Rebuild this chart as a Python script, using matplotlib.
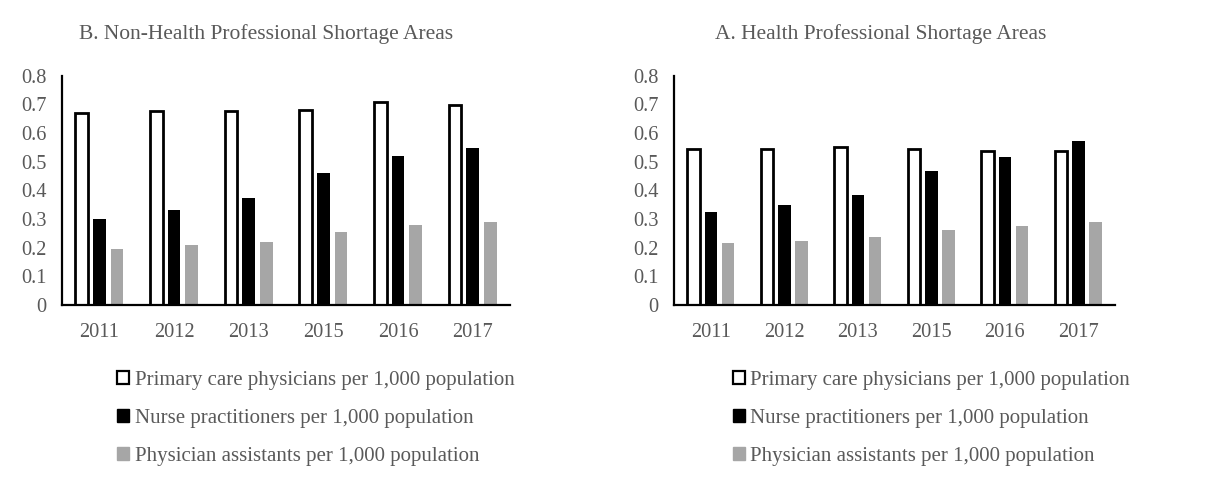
import numpy as np
import matplotlib
matplotlib.use("Agg")
import matplotlib.pyplot as plt
from matplotlib.patches import Patch

years = ["2011", "2012", "2013", "2015", "2016", "2017"]
series_labels = [
    "Primary care physicians per 1,000 population",
    "Nurse practitioners per 1,000 population",
    "Physician assistants per 1,000 population",
]

# B. Non-HPSA
non_hpsa_pcp = [0.669, 0.677, 0.677, 0.681, 0.707, 0.699]
non_hpsa_np = [0.301, 0.333, 0.372, 0.459, 0.521, 0.547]
non_hpsa_pa = [0.197, 0.209, 0.219, 0.253, 0.280, 0.288]

# A. HPSA
hpsa_pcp = [0.543, 0.543, 0.552, 0.543, 0.539, 0.539]
hpsa_np = [0.326, 0.348, 0.384, 0.467, 0.515, 0.572]
hpsa_pa = [0.217, 0.225, 0.239, 0.261, 0.275, 0.288]

GREY_TXT = "#595959"
PA_COLOR = "#a6a6a6"

plt.rcParams["font.family"] = ["Liberation Serif", "DejaVu Serif"]

fig = plt.figure(figsize=(12.24, 4.84), dpi=100)

# (title, data..., axes rect, title x, legend x)
panels = [
    ("B. Non-Health Professional Shortage Areas", non_hpsa_pcp, non_hpsa_np,
     non_hpsa_pa, [0.0507, 0.3698, 0.366, 0.4738], 0.2173, 0.0955),
    ("A. Health Professional Shortage Areas", hpsa_pcp, hpsa_np,
     hpsa_pa, [0.5507, 0.3698, 0.3603, 0.4738], 0.7198, 0.5985),
]

x = np.arange(len(years))
w = 0.17
off = 0.237

for title, pcp, npr, pa, rect, title_x, leg_x in panels:
    ax = fig.add_axes(rect)
    ax.bar(x - off, pcp, w, facecolor="white", edgecolor="black", linewidth=2)
    ax.bar(x, npr, w, color="black")
    ax.bar(x + off, pa, w, color=PA_COLOR)
    ax.set_xlim(-0.5, len(years) - 0.5)
    ax.set_ylim(0, 0.8)
    ax.set_yticks(np.arange(0, 0.81, 0.1))
    ax.set_yticklabels(["0"] + [f"{v:.1f}" for v in np.arange(0.1, 0.81, 0.1)])
    ax.set_xticks(x)
    ax.set_xticklabels(years)
    ax.tick_params(length=0, labelsize=14.7, colors=GREY_TXT)
    ax.tick_params(axis="y", pad=11)
    ax.tick_params(axis="x", pad=13)
    for s in ("top", "right"):
        ax.spines[s].set_visible(False)
    for s in ("left", "bottom"):
        ax.spines[s].set_linewidth(1.6)
    fig.text(title_x, 0.93, title, fontsize=15.5, color=GREY_TXT,
             ha="center", va="center")

    handles = [
        Patch(facecolor="white", edgecolor="black", linewidth=1.6),
        Patch(facecolor="black", edgecolor="black"),
        Patch(facecolor=PA_COLOR, edgecolor=PA_COLOR),
    ]
    fig.legend(handles, series_labels, loc="upper left",
               bbox_to_anchor=(leg_x, 0.233), frameon=False, fontsize=15,
               handlelength=0.6, handleheight=0.6, handletextpad=0.25,
               labelspacing=0.9, borderaxespad=0, borderpad=0,
               labelcolor=GREY_TXT)

fig.savefig("out.png", dpi=100)
